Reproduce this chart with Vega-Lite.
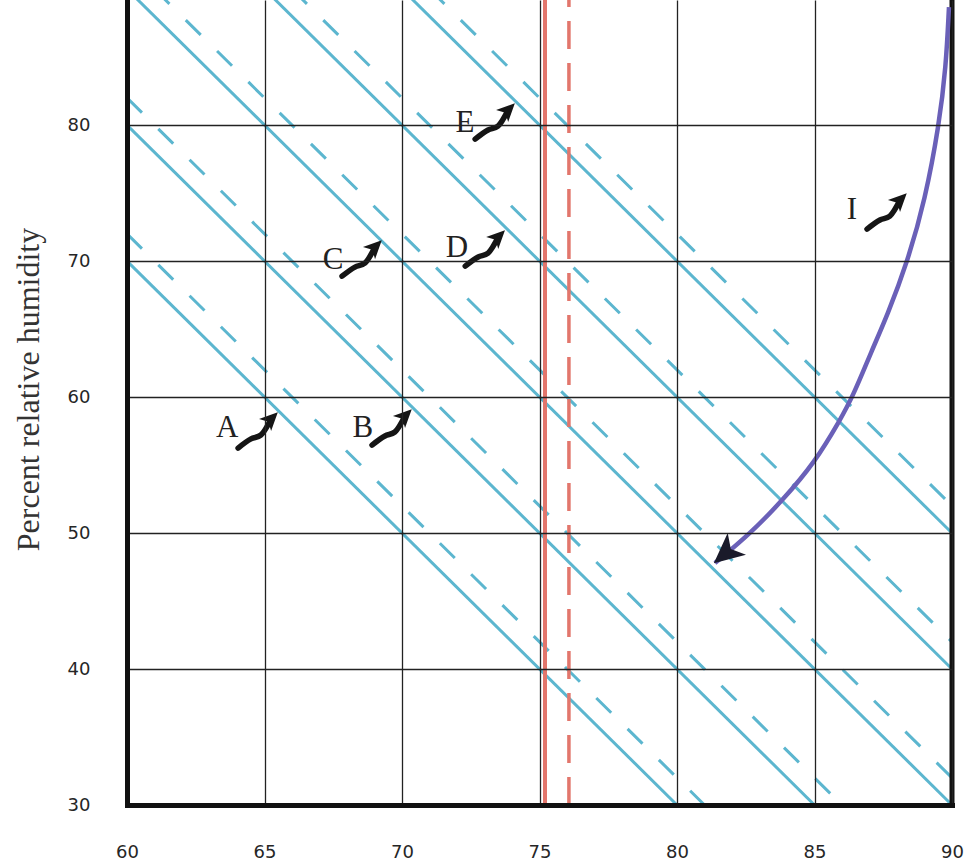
{
  "$schema": "https://vega.github.io/schema/vega-lite/v6.json",
  "width": 825,
  "height": 805,
  "autosize": {"type": "none"},
  "padding": {"left": 127, "top": 0, "right": 12, "bottom": 57},
  "background": "white",
  "config": {"view": {"stroke": null}},
  "datasets": {
    "diag": [
      {"id": "s190", "style": "solid", "T": 60, "RH": 70}, {"id": "s190", "style": "solid", "T": 80, "RH": 30},
      {"id": "s200", "style": "solid", "T": 60, "RH": 80}, {"id": "s200", "style": "solid", "T": 85, "RH": 30},
      {"id": "s210", "style": "solid", "T": 60, "RH": 90}, {"id": "s210", "style": "solid", "T": 90, "RH": 30},
      {"id": "s220", "style": "solid", "T": 65, "RH": 90}, {"id": "s220", "style": "solid", "T": 90, "RH": 40},
      {"id": "s230", "style": "solid", "T": 70, "RH": 90}, {"id": "s230", "style": "solid", "T": 90, "RH": 50},
      {"id": "d192", "style": "dashed", "T": 60, "RH": 72}, {"id": "d192", "style": "dashed", "T": 81, "RH": 30},
      {"id": "d202", "style": "dashed", "T": 60, "RH": 82}, {"id": "d202", "style": "dashed", "T": 86, "RH": 30},
      {"id": "d212", "style": "dashed", "T": 61, "RH": 90}, {"id": "d212", "style": "dashed", "T": 90, "RH": 32},
      {"id": "d222", "style": "dashed", "T": 66, "RH": 90}, {"id": "d222", "style": "dashed", "T": 90, "RH": 42},
      {"id": "d232", "style": "dashed", "T": 71, "RH": 90}, {"id": "d232", "style": "dashed", "T": 90, "RH": 52}
    ],
    "red": [
      {"id": "r1", "style": "solid", "T": 75.2, "RH": 30}, {"id": "r1", "style": "solid", "T": 75.2, "RH": 89.2},
      {"id": "r2", "style": "dashed", "T": 76.07, "RH": 30}, {"id": "r2", "style": "dashed", "T": 76.07, "RH": 89.2}
    ],
    "frame": [
      {"T": 90, "RH": 30}, {"T": 90, "RH": 89.2}
    ],
    "curve": [
      {"T": 81.38, "RH": 47.79}, {"T": 82.65, "RH": 49.93}, {"T": 83.85, "RH": 52.43},
      {"T": 85.02, "RH": 55.22}, {"T": 85.93, "RH": 58.31},
      {"T": 86.4, "RH": 60.07}, {"T": 87.09, "RH": 63.46}, {"T": 87.64, "RH": 65.96},
      {"T": 88.4, "RH": 70.07}, {"T": 89.02, "RH": 74.49},
      {"T": 89.53, "RH": 80.0}, {"T": 89.78, "RH": 84.26}, {"T": 89.89, "RH": 88.68}
    ],
    "curvehead": [
      {"T": 81.78, "RH": 48.53}
    ],
    "arrows": [
      {"arrow": "A", "seq": 1, "part": "tail", "T": 64.04, "RH": 56.25},
      {"arrow": "A", "seq": 2, "part": "mid", "T": 64.51, "RH": 56.92},
      {"arrow": "A", "seq": 3, "part": "mid", "T": 64.87, "RH": 57.21},
      {"arrow": "A", "seq": 4, "part": "head", "T": 65.24, "RH": 58.39},
      {"arrow": "B", "seq": 1, "part": "tail", "T": 68.91, "RH": 56.47},
      {"arrow": "B", "seq": 2, "part": "mid", "T": 69.38, "RH": 57.14},
      {"arrow": "B", "seq": 3, "part": "mid", "T": 69.74, "RH": 57.43},
      {"arrow": "B", "seq": 4, "part": "head", "T": 70.11, "RH": 58.61},
      {"arrow": "C", "seq": 1, "part": "tail", "T": 67.82, "RH": 68.89},
      {"arrow": "C", "seq": 2, "part": "mid", "T": 68.29, "RH": 69.56},
      {"arrow": "C", "seq": 3, "part": "mid", "T": 68.65, "RH": 69.85},
      {"arrow": "C", "seq": 4, "part": "head", "T": 69.02, "RH": 71.03},
      {"arrow": "D", "seq": 1, "part": "tail", "T": 72.3, "RH": 69.63},
      {"arrow": "D", "seq": 2, "part": "mid", "T": 72.77, "RH": 70.3},
      {"arrow": "D", "seq": 3, "part": "mid", "T": 73.13, "RH": 70.59},
      {"arrow": "D", "seq": 4, "part": "head", "T": 73.5, "RH": 71.77},
      {"arrow": "E", "seq": 1, "part": "tail", "T": 72.66, "RH": 78.97},
      {"arrow": "E", "seq": 2, "part": "mid", "T": 73.13, "RH": 79.64},
      {"arrow": "E", "seq": 3, "part": "mid", "T": 73.49, "RH": 79.93},
      {"arrow": "E", "seq": 4, "part": "head", "T": 73.86, "RH": 81.11},
      {"arrow": "I", "seq": 1, "part": "tail", "T": 86.91, "RH": 72.35},
      {"arrow": "I", "seq": 2, "part": "mid", "T": 87.38, "RH": 73.02},
      {"arrow": "I", "seq": 3, "part": "mid", "T": 87.74, "RH": 73.31},
      {"arrow": "I", "seq": 4, "part": "head", "T": 88.11, "RH": 74.49}
    ],
    "letters": [
      {"label": "A", "T": 63.64, "RH": 57.72},
      {"label": "B", "T": 68.58, "RH": 57.72},
      {"label": "C", "T": 67.49, "RH": 70.07},
      {"label": "D", "T": 72.0, "RH": 70.96},
      {"label": "E", "T": 72.29, "RH": 80.15},
      {"label": "I", "T": 86.36, "RH": 73.75}
    ]
  },
  "encoding": {
    "x": {
      "field": "T", "type": "quantitative",
      "scale": {"domain": [60, 90], "nice": false, "zero": false},
      "axis": {
        "values": [60, 65, 70, 75, 80, 85, 90], "title": null,
        "grid": true, "gridColor": "#222222", "gridWidth": 1.3,
        "domainColor": "#111111", "domainWidth": 5, "domainCap": "square",
        "ticks": false, "labelPadding": 38, "labelFlush": false, "labelOverlap": false,
        "labelFont": "DejaVu Sans", "labelFontSize": 18, "labelColor": "#262626", "zindex": 1
      }
    },
    "y": {
      "field": "RH", "type": "quantitative",
      "scale": {"domain": [30, 89.2], "nice": false, "zero": false},
      "axis": {
        "values": [30, 40, 50, 60, 70, 80], "title": "Percent relative humidity",
        "grid": true, "gridColor": "#222222", "gridWidth": 1.3,
        "domainColor": "#111111", "domainWidth": 5, "domainCap": "square",
        "ticks": false, "labelPadding": 37, "labelFlush": false, "labelOverlap": false,
        "labelFont": "DejaVu Sans", "labelFontSize": 18, "labelColor": "#262626",
        "titleFont": "Liberation Serif", "titleFontSize": 32, "titleFontWeight": "normal",
        "titleColor": "#333333", "titleAngle": 270, "titleX": -99, "titleY": 389,
        "titleAlign": "center", "titleBaseline": "middle", "zindex": 1
      }
    }
  },
  "layer": [
    {
      "data": {"name": "diag"},
      "transform": [{"filter": "datum.style === 'solid'"}],
      "mark": {"type": "line", "color": "#5cb6cf", "strokeWidth": 3, "clip": true},
      "encoding": {"detail": {"field": "id"}}
    },
    {
      "data": {"name": "diag"},
      "transform": [{"filter": "datum.style === 'dashed'"}],
      "mark": {"type": "line", "color": "#5cb6cf", "strokeWidth": 3, "strokeDash": [21, 23], "clip": true},
      "encoding": {"detail": {"field": "id"}}
    },
    {
      "data": {"name": "red"},
      "transform": [{"filter": "datum.style === 'solid'"}],
      "mark": {"type": "line", "color": "#e2766c", "strokeWidth": 4},
      "encoding": {"detail": {"field": "id"}}
    },
    {
      "data": {"name": "red"},
      "transform": [{"filter": "datum.style === 'dashed'"}],
      "mark": {"type": "line", "color": "#e2766c", "strokeWidth": 3.5, "strokeDash": [28, 14]},
      "encoding": {"detail": {"field": "id"}}
    },
    {
      "data": {"name": "frame"},
      "mark": {"type": "line", "color": "#111111", "strokeWidth": 5},
      "encoding": {}
    },
    {
      "data": {"name": "curve"},
      "mark": {"type": "line", "color": "#6a60b8", "strokeWidth": 4.5, "interpolate": "basis", "clip": true},
      "encoding": {}
    },
    {
      "data": {"name": "curvehead"},
      "mark": {"type": "point", "shape": "M0,-1 L0.9,0.9 L0,0.4 L-0.9,0.9 Z", "size": 1000, "angle": 230, "filled": true, "color": "#1a1a2a", "opacity": 1},
      "encoding": {}
    },
    {
      "data": {"name": "arrows"},
      "mark": {"type": "line", "color": "#151515", "strokeWidth": 5.5, "strokeCap": "round", "strokeJoin": "round", "interpolate": "monotone"},
      "encoding": {"detail": {"field": "arrow"}, "order": {"field": "seq"}}
    },
    {
      "data": {"name": "arrows"},
      "transform": [{"filter": "datum.part === 'head'"}],
      "mark": {"type": "point", "shape": "M0,-1 L0.9,0.9 L0,0.4 L-0.9,0.9 Z", "size": 361, "angle": 45, "filled": true, "color": "#151515", "opacity": 1},
      "encoding": {}
    },
    {
      "data": {"name": "letters"},
      "mark": {"type": "text", "font": "Liberation Serif", "fontSize": 31, "color": "#222222", "align": "center", "baseline": "middle"},
      "encoding": {"text": {"field": "label"}}
    }
  ]
}
